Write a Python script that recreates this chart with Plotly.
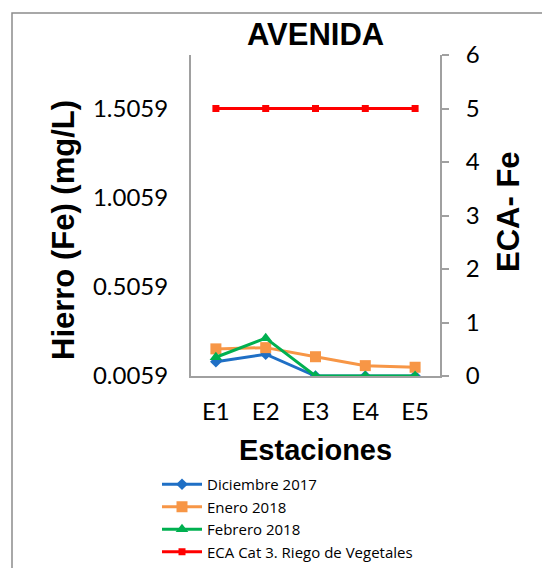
import plotly.graph_objects as go

estaciones = ["E1", "E2", "E3", "E4", "E5"]
diciembre_2017 = [0.086, 0.128, 0.0059, 0.0059, 0.0059]
enero_2018 = [0.158, 0.165, 0.114, 0.064, 0.055]
febrero_2018 = [0.111, 0.218, 0.0059, 0.0059, 0.0059]
eca_cat3 = [5, 5, 5, 5, 5]

left_ticks = [0.0059, 0.5059, 1.0059, 1.5059]
left_ticktext = ["0.0059", "0.5059", "1.0059", "1.5059"]
right_ticks = [0, 1, 2, 3, 4, 5, 6]

TICKFONT = dict(family="Lato", size=24, color="#000000")
TITLEFONT = dict(family="Liberation Sans", size=29, color="#000000")
BIGTITLE = dict(family="Liberation Sans", size=31, color="#000000")
AXCOL = "#A0A0A0"

# page body has an 8px margin; figure is sized to fit the window
OFF = 8
W, H = 550 - OFF, 568 - OFF
L, R, T, B = 191, 440, 55, 376
PW, PH = R - L, B - T

def px(x):
    return (x - L) / PW

def py(y):
    return (B - y) / PH

fig = go.Figure()
fig.add_trace(go.Scatter(x=estaciones, y=diciembre_2017, name="Diciembre 2017",
                         mode="lines+markers", line=dict(color="#1F6FC5", width=3),
                         marker=dict(symbol="diamond", size=9, color="#1F6FC5")))
fig.add_trace(go.Scatter(x=estaciones, y=enero_2018, name="Enero 2018",
                         mode="lines+markers", line=dict(color="#F79646", width=3),
                         marker=dict(symbol="square", size=11, color="#F79646")))
fig.add_trace(go.Scatter(x=estaciones, y=febrero_2018, name="Febrero 2018",
                         mode="lines+markers", line=dict(color="#00B050", width=3),
                         marker=dict(symbol="triangle-up", size=11, color="#00B050")))
fig.add_trace(go.Scatter(x=estaciones, y=eca_cat3, name="ECA Cat 3. Riego de Vegetales",
                         mode="lines+markers", line=dict(color="#FF0000", width=3),
                         marker=dict(symbol="square", size=7, color="#FF0000"),
                         yaxis="y2"))

fig.update_layout(
    width=W, height=H, autosize=False,
    margin=dict(l=L - OFF, r=W - (R - OFF), t=T - OFF, b=H - (B - OFF), autoexpand=False),
    paper_bgcolor="white", plot_bgcolor="white",
    showlegend=True,
    legend=dict(x=px(157), y=py(468), xanchor="left", yanchor="top",
                font=dict(family="Open Sans", size=15, color="#000000"),
                bgcolor="rgba(0,0,0,0)", itemwidth=40, tracegroupgap=0),
    xaxis=dict(type="category", range=[-0.5, 4.5], showline=True, linecolor=AXCOL, linewidth=2,
               ticks="", showgrid=False, zeroline=False, tickfont=TICKFONT,
               ticklabelstandoff=13),
    yaxis=dict(range=[0.0059, 1.8059], tickvals=left_ticks, ticktext=left_ticktext,
               showline=True, linecolor=AXCOL, linewidth=2, ticks="", showgrid=False,
               zeroline=False, tickfont=TICKFONT, ticklabelstandoff=16),
    yaxis2=dict(range=[0, 6], tickvals=right_ticks, overlaying="y", side="right",
                showline=True, linecolor=AXCOL, linewidth=2, ticks="outside", ticklen=7,
                tickcolor=AXCOL, tickwidth=2, showgrid=False, zeroline=False,
                tickfont=TICKFONT, ticklabelstandoff=12),
    shapes=[dict(type="rect", xref="paper", yref="paper",
                 x0=px(12), x1=px(580), y0=py(600), y1=py(13),
                 line=dict(color="#8C8C8C", width=1.5), fillcolor="rgba(0,0,0,0)", layer="below")],
    annotations=[
        dict(text="<b>AVENIDA</b>", xref="paper", yref="paper", x=0.5, y=py(35),
             xanchor="center", yanchor="middle", showarrow=False, font=BIGTITLE),
        dict(text="<b>Estaciones</b>", xref="paper", yref="paper", x=0.5, y=py(450),
             xanchor="center", yanchor="middle", showarrow=False, font=TITLEFONT),
        dict(text="<b>Hierro (Fe) (mg/L)</b>", xref="paper", yref="paper",
             x=px(64), y=py(230), textangle=-90,
             xanchor="center", yanchor="middle", showarrow=False, font=BIGTITLE),
        dict(text="<b>ECA- Fe</b>", xref="paper", yref="paper",
             x=px(508), y=py(212), textangle=-90,
             xanchor="center", yanchor="middle", showarrow=False, font=BIGTITLE),
    ],
)

fig.write_html("out.html")
